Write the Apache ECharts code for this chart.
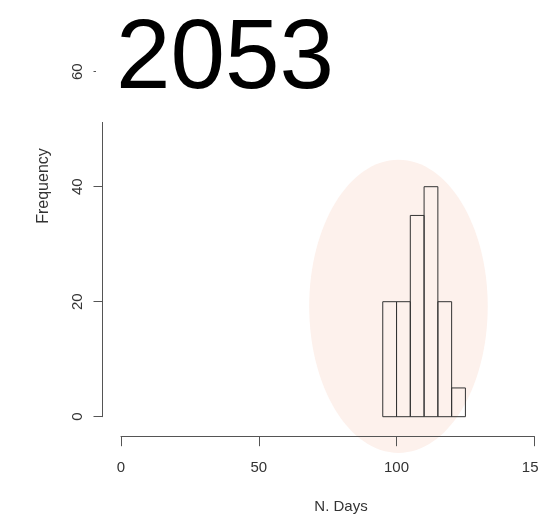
<!DOCTYPE html>
<html>
<head>
<meta charset="utf-8">
<script src="https://cdn.jsdelivr.net/npm/echarts@6/dist/echarts.min.js"></script>
<style>html,body{margin:0;padding:0;background:#fff}#c{width:538px;height:522px}</style>
</head>
<body>
<div id="c"></div>
<script>
// Histogram data (N. Days bins of width 5)
const binStarts = [95, 100, 105, 110, 115, 120];
const binEnds   = [100, 105, 110, 115, 120, 125];
const counts    = [20, 20, 35, 40, 20, 5];
// Highlight ellipse in data units: [centerX, centerY, radiusX, radiusY]
const ellipse = [100.7, 19.2, 32.4, 25.5];
const titleText = '2053';
const xTicks = [0, 50, 100, 150];
const yTicks = [0, 20, 40, 60];
const xName = 'N. Days';
const yName = 'Frequency';

const FONT = 'Liberation Sans, Arial, Helvetica, sans-serif';
const chart = echarts.init(document.getElementById('c'), null, {renderer: 'canvas'});

const barData = binStarts.map((s, i) => [s, binEnds[i], counts[i]]);

chart.setOption({
  animation: false,
  backgroundColor: '#ffffff',
  title: {
    text: titleText,
    left: 96, top: 0,
    padding: [12, 20, 12, 20],
    backgroundColor: '#ffffff',
    textStyle: {fontFamily: FONT, fontSize: 98, fontWeight: 'normal', color: '#000'}
  },
  grid: {left: 121, right: 3.7, top: 71.7, bottom: 105.3, containLabel: false, outerBoundsMode: 'none'},
  xAxis: {
    type: 'value', min: xTicks[0], max: xTicks[xTicks.length - 1], interval: 50,
    offset: 19.5,
    axisLine: {show: true, onZero: false, lineStyle: {color: '#555', width: 1}},
    axisTick: {show: true, length: 10, lineStyle: {color: '#555'}},
    axisLabel: {show: true, margin: 24.5, fontFamily: FONT, fontSize: 15, color: '#333', hideOverlap: false},
    splitLine: {show: false}
  },
  yAxis: {
    type: 'value', min: yTicks[0], max: yTicks[yTicks.length - 1], interval: 20,
    offset: 18.5,
    axisLine: {show: true, onZero: false, lineStyle: {color: '#555', width: 1}},
    axisTick: {show: true, length: 9, lineStyle: {color: '#555'}},
    axisLabel: {show: true, rotate: 90, margin: 17, fontFamily: FONT, fontSize: 15, color: '#333', hideOverlap: false},
    splitLine: {show: false}
  },
  graphic: [
    {type: 'text', x: 43.3, y: 186, rotation: Math.PI / 2,
     style: {text: yName, fontFamily: FONT, fontSize: 16, fill: '#333', align: 'center', verticalAlign: 'middle'}},
    {type: 'text', x: 341, y: 507,
     style: {text: xName, fontFamily: FONT, fontSize: 15, fill: '#333', align: 'center', verticalAlign: 'middle'}}
  ],
  series: [
    {
      type: 'custom', z: -1, silent: true, clip: false,
      data: [ellipse],
      renderItem: function (params, api) {
        const c = api.coord([api.value(0), api.value(1)]);
        const sz = api.size([api.value(2), api.value(3)]);
        return {type: 'ellipse', shape: {cx: c[0], cy: c[1], rx: sz[0], ry: sz[1]},
                style: {fill: 'rgb(253,241,236)', stroke: null}};
      }
    },
    {
      type: 'custom', z: 3, clip: false,
      data: barData,
      renderItem: function (params, api) {
        const p0 = api.coord([api.value(0), api.value(2)]);
        const p1 = api.coord([api.value(1), 0]);
        return {type: 'rect', shape: {x: p0[0], y: p0[1], width: p1[0] - p0[0], height: p1[1] - p0[1]},
                style: {fill: 'none', stroke: '#333', lineWidth: 1}};
      }
    }
  ]
});
</script>
</body>
</html>
